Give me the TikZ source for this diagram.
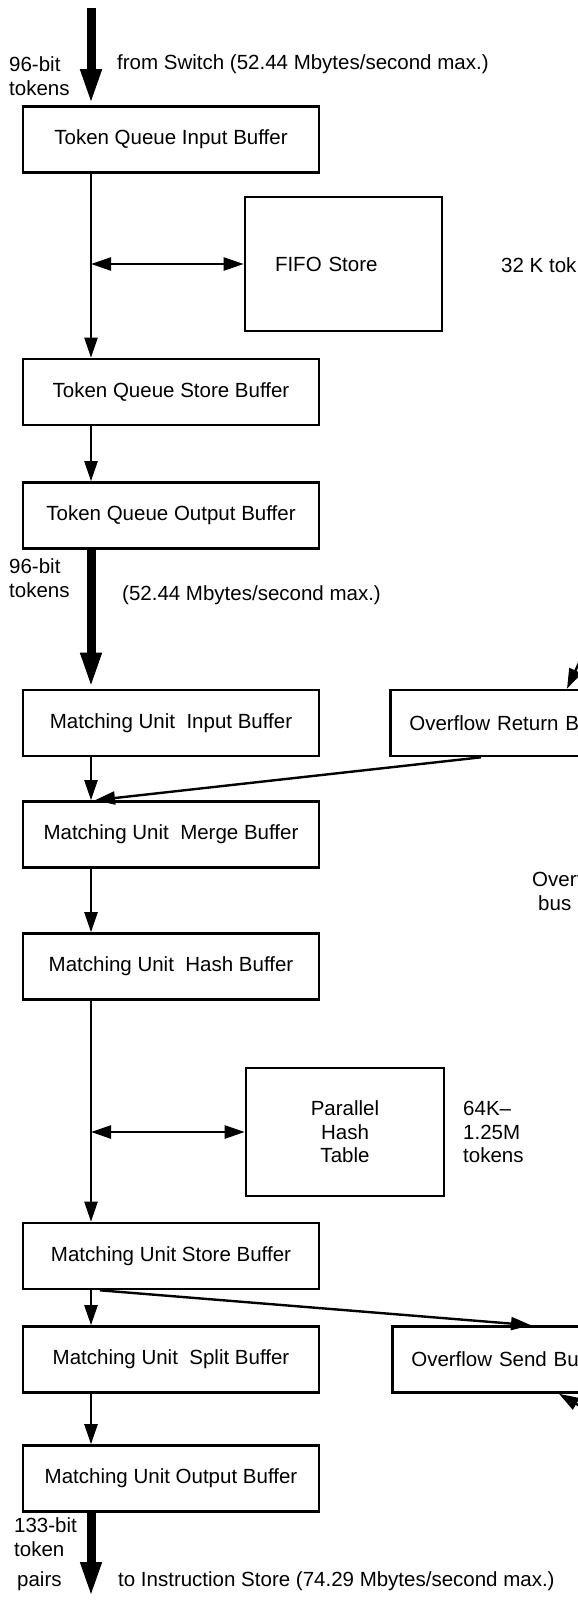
\documentclass[tikz,border=0pt]{standalone}
\usepackage{fontspec}
\setmainfont{Liberation Sans}
\usetikzlibrary{arrows.meta}
\begin{document}
\begin{tikzpicture}[x=1pt,y=-1pt,
  every node/.style={font=\fontsize{20.5}{25}\selectfont},
  buf/.style={draw, line width=2.6pt, minimum width=296pt, minimum height=66pt, inner sep=0pt},
  sidebox/.style={draw, line width=2.6pt, anchor=west, text width=262pt, inner xsep=19pt, inner ysep=0pt, minimum height=66pt, align=left},
  thinarr/.style={line width=2.4pt, -{Triangle[length=20pt,width=13pt]}},
  dblarr/.style={line width=2.4pt, {Triangle[length=20pt,width=13pt]}-{Triangle[length=20pt,width=13pt]}},
  thickarr/.style={line width=9pt, -{Triangle[length=36pt,width=19pt]}},
  lbl/.style={anchor=west, inner sep=0pt}
]
\path[use as bounding box] (0,0) rectangle (578,1601);
\fill[white] (0,0) rectangle (578,1601);
\clip (0,0) rectangle (578,1601);

\coordinate (col) at (91,0);
\coordinate (topin) at (91,8);
\coordinate (botout) at (91,1598);
\coordinate (orbin) at (592,635);
\coordinate (osbout) at (590,1412);

% buffers
\node[buf] (TQIB) at (171,139.5) {Token Queue Input Buffer};
\node[draw, line width=2.6pt, minimum height=134pt, text width=137pt, inner xsep=30pt, inner ysep=0pt, align=left] (FIFO) at (343.5,264) {FIFO Store};
\node[buf] (TQSB) at (171,392) {Token Queue Store Buffer};
\node[buf] (TQOB) at (171,515.5) {Token Queue Output Buffer};
\node[buf] (MUIB) at (171,723) {Matching Unit\ \ Input Buffer};
\node[sidebox] (ORB) at (389,723) {Overflow Return Bu};
\node[buf] (MUMB) at (171,834.5) {Matching Unit\ \ Merge Buffer};
\node[buf] (MUHB) at (171,966.5) {Matching Unit\ \ Hash Buffer};
\node[draw, line width=2.6pt, minimum width=198pt, minimum height=128pt, inner sep=0pt, align=center, font=\fontsize{20.5}{23.5}\selectfont] (PHT) at (345,1132) {Parallel\\Hash\\Table};
\node[buf] (MUSB) at (171,1256) {Matching Unit Store Buffer};
\node[buf] (MUSpB) at (171,1359.5) {Matching Unit\ \ Split Buffer};
\node[sidebox] (OSB) at (391,1359.5) {Overflow Send Bu};
\node[buf] (MUOB) at (171,1478.5) {Matching Unit Output Buffer};

% labels
\node[lbl] (l1) at (9,64) {96-bit};
\node[lbl] (l2) at (9,88) {tokens};
\node[lbl] (l3) at (117,64) {from Switch (52.44 Mbytes/second max.)};
\node[lbl] (l4) at (501,265) {32 K tok};
\node[lbl] (l5) at (9,566) {96-bit};
\node[lbl] (l6) at (9,590) {tokens};
\node[lbl] (l7) at (122,595) {(52.44 Mbytes/second max.)};
\node[lbl] (l8) at (532,879) {Overf};
\node[lbl] (l9) at (538,903) {bus};
\node[lbl, align=left, font=\fontsize{20.5}{23.5}\selectfont] (l10) at (463,1132) {64K–\\1.25M\\tokens};
\node[lbl] (l11) at (14,1525) {133-bit};
\node[lbl] (l12) at (14,1549) {token};
\node[lbl] (l13) at (17,1581) {pairs};
\node[lbl] (l14) at (118,1581) {to Instruction Store (74.29 Mbytes/second max.)};

% connectors
\draw[thickarr] (topin) -- (TQIB.north -| col);
\draw[thinarr] (TQIB.south -| col) -- (TQSB.north -| col);
\draw[dblarr] (FIFO.west -| col) -- (FIFO.west);
\draw[thinarr] (TQSB.south -| col) -- (TQOB.north -| col);
\draw[thickarr] (TQOB.south -| col) -- (MUIB.north -| col);
\draw[thinarr] (orbin) -- ([xshift=178pt]ORB.north west);
\draw[thinarr] (MUIB.south -| col) -- (MUMB.north -| col);
\draw[thinarr] ([xshift=92pt]ORB.south west) -- ([xshift=-76pt]MUMB.north);
\draw[thinarr] (MUMB.south -| col) -- (MUHB.north -| col);
\draw[thinarr] (MUHB.south -| col) -- (MUSB.north -| col);
\draw[dblarr] (PHT.west -| col) -- (PHT.west);
\draw[thinarr] (MUSB.south -| col) -- (MUSpB.north -| col);
\draw[thinarr] ([xshift=-71pt]MUSB.south) -- ([xshift=140pt]OSB.north west);
\draw[thinarr] (osbout) -- ([xshift=168pt]OSB.south west);
\draw[thinarr] (MUSpB.south -| col) -- (MUOB.north -| col);
\draw[thickarr] (MUOB.south -| col) -- (botout);
\end{tikzpicture}
\end{document}
